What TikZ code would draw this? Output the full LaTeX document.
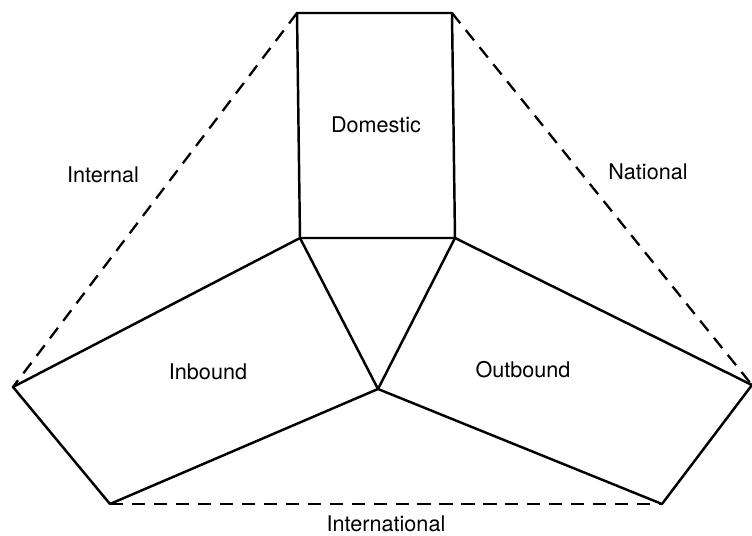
\documentclass[tikz,border=0pt]{standalone}
\usepackage{fontspec}
\setsansfont{TeX Gyre Heros}
\begin{document}
\begin{tikzpicture}[x=0.02cm, y=-0.02cm]
  \tikzstyle{myline}=[black, line width=1.4pt, line cap=round, line join=round];
  \tikzstyle{border}=[black, line width=1.3pt, dash pattern=on 7.5pt off 5pt];
  \tikzstyle{lbl}=[font=\sffamily\fontsize{12.3}{14}\selectfont];
  \useasboundingbox (0, 0) rectangle (752, 536);
  %
  % domestic box
  \coordinate (domA) at (297, 13);
  \coordinate (domB) at (452, 13);
  \coordinate (domC) at (455, 238);
  \coordinate (domD) at (300, 238);
  \draw[myline] (domA) -- (domB) -- (domC) -- (domD) -- cycle;
  \node[lbl] (dom) at (376, 125) {Domestic};
  %
  % inbound and outbound
  \coordinate (mid) at (378, 389);
  \coordinate (inA) at (13, 387);
  \coordinate (inB) at (110, 504);
  \coordinate (outA) at (752, 385);
  \coordinate (outB) at (662, 504);
  \draw[myline] (domD) -- (inA) -- (inB) -- (mid) -- (domD);
  \draw[myline] (domC) -- (outA) -- (outB) -- (mid) -- (domC);
  \node[lbl] (in) at (208, 372) {Inbound};
  \node[lbl] (out) at (523, 370) {Outbound};
  %
  % dashed borders
  \draw[border] (domA) -- (inA);
  \draw[border] (domB) -- (outA);
  \draw[border] (inB) -- (outB);
  \node[lbl] (internal) at (103, 175) {Internal};
  \node[lbl] (national) at (648, 172) {National};
  \node[lbl] (international) at (386, 524) {International};
\end{tikzpicture}
\end{document}
